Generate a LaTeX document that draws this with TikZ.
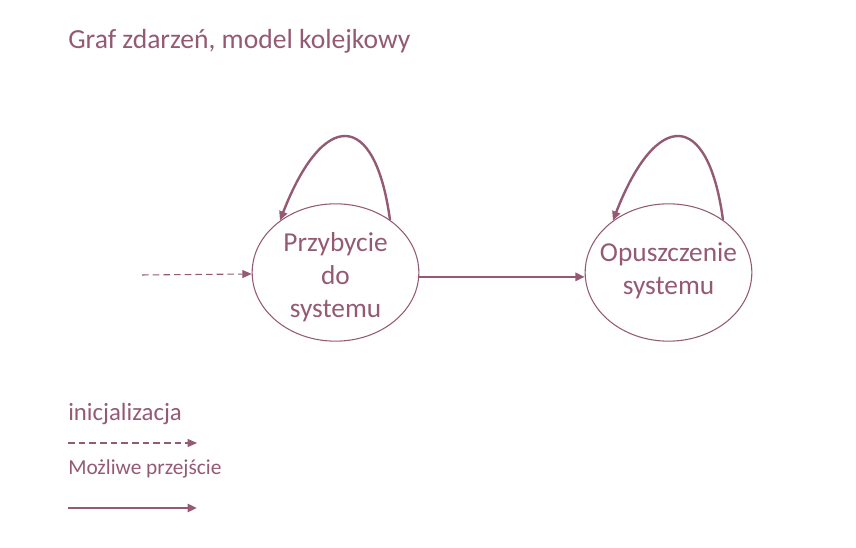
\documentclass[tikz,border=0pt]{standalone}
\usepackage{fontspec}
\setmainfont{Carlito}
\usetikzlibrary{shapes.geometric}
\usetikzlibrary{arrows.meta}
\definecolor{plum}{RGB}{148,90,116}
\tikzstyle{state}=[ellipse,draw=plum,line width=0.8pt,inner sep=0mm,minimum width=125pt,minimum height=103pt]
\tikzstyle{statetext}=[inner sep=0mm,text=plum,align=center,font=\fontsize{20.5}{24.75}\selectfont]
\tikzstyle{label}=[anchor=base west,inner sep=0pt,text=plum]
\tikzstyle{arrow}=[-{Triangle[length=7pt,width=6pt]},draw=plum]
\tikzstyle{init}=[arrow,line width=0.8pt,dash pattern=on 5pt off 3pt]
\tikzstyle{move}=[arrow,line width=1.8pt]
\tikzset{every picture/.style={
    x=0.75pt,y=0.75pt
  }
}
\begin{document}
\begin{tikzpicture}
      \useasboundingbox (0,0) rectangle (856,548);
      \node[label,font=\fontsize{20.7}{24}\selectfont] at (68,499) (title) {Graf zdarzeń, model kolejkowy};
      \node[state] at (335.5,275.5) (pz) {};
      \node[statetext,yshift=-3.5pt] at (pz) (pzt) {Przybycie\\do\\systemu};
      \node[state] at (668.5,275.5) (op) {};
      \node[statetext,yshift=1.5pt] at (op) (opt) {Opuszczenie\\systemu};
      \coordinate (start) at (142,273);
      \draw[init] (start) -- (pz.181);
      \draw[move] (pz.-3) -- (op.183);
      \draw[move] (pz.44) .. controls +(-15,111) and +(43,111) .. (pz.137);
      \draw[move] (op.44) .. controls +(-15,111) and +(43,111) .. (op.137);
      % legenda
      \node[label,font=\fontsize{18.6}{20}\selectfont] at (68,127) (linit) {inicjalizacja};
      \coordinate (i1) at (68,105);
      \coordinate (i2) at (197,105);
      \draw[init] (i1) -- (i2);
      \node[label,font=\fontsize{16}{18}\selectfont] at (68,73) (lmove) {Możliwe przejście};
      \coordinate (m1) at (68,40);
      \coordinate (m2) at (197,40);
      \draw[move] (m1) -- (m2);
    \end{tikzpicture}
\end{document}
